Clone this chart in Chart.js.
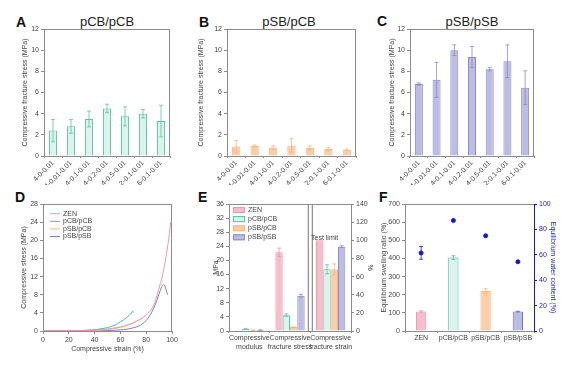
<!DOCTYPE html>
<html>
<head>
<meta charset="utf-8">
<script src="https://cdn.jsdelivr.net/npm/chart.js@4.4.0/dist/chart.umd.min.js"></script>
<style>
  body { margin: 0; background: #fff; }
  #fig { position: relative; width: 584px; height: 371px; overflow: hidden; font-family: 'Liberation Sans', Arial, sans-serif; }
  canvas { position: absolute; }
  .lab { position: absolute; font-weight: bold; font-size: 14px; line-height: 14px; color: #111; }
  .ttl { position: absolute; font-size: 13px; line-height: 13px; color: #222; transform: translateX(-50%); white-space: nowrap; }
</style>
</head>
<body>
<div id="fig">
  <div class="lab" style="left:16px;top:15px">A</div>
  <div class="lab" style="left:199px;top:15px">B</div>
  <div class="lab" style="left:377px;top:14px">C</div>
  <div class="lab" style="left:15px;top:190px">D</div>
  <div class="lab" style="left:198px;top:190px">E</div>
  <div class="lab" style="left:379px;top:190px">F</div>
  <div class="ttl" style="left:107px;top:15px">pCB/pCB</div>
  <div class="ttl" style="left:289px;top:15px">pSB/pCB</div>
  <div class="ttl" style="left:472px;top:15px">pSB/pSB</div>
  <canvas id="cA" width="190" height="185" style="left:0;top:0"></canvas>
  <canvas id="cB" width="190" height="185" style="left:190px;top:0"></canvas>
  <canvas id="cC" width="204" height="185" style="left:380px;top:0"></canvas>
  <canvas id="cD" width="190" height="186" style="left:0;top:185px"></canvas>
  <canvas id="cE" width="190" height="186" style="left:190px;top:185px"></canvas>
  <canvas id="cF" width="204" height="186" style="left:380px;top:185px"></canvas>
</div>
<script>
// ---- data ----
const groups = ['4-0-0.01', '4-0.01-0.01', '4-0.1-0.01', '4-0.2-0.01', '4-0.5-0.01', '2-0.1-0.01', '6-0.1-0.01'];
const stressTicks = [0, 2, 4, 6, 8, 10, 12];
const stressA = [2.4, 2.8, 3.5, 4.5, 3.75, 4.0, 3.3];
const errA = [1.05, 0.65, 0.75, 0.4, 0.9, 0.4, 1.5];
const stressB = [0.9, 0.95, 0.8, 1.0, 0.75, 0.65, 0.6];
const errB = [0.55, 0.1, 0.15, 0.65, 0.2, 0.15, 0.05];
const stressC = [6.8, 7.2, 10.0, 9.35, 8.2, 8.95, 6.45];
const errC = [0.1, 1.65, 0.5, 1.0, 0.15, 1.55, 1.6];

// D: stress-strain curves
const strainTicks = [0, 20, 40, 60, 80, 100];
const curveTicks = [0, 4, 8, 12, 16, 20, 24, 28];
const zenStrain = [0, 10, 20, 30, 40, 50, 60, 65, 70, 75, 80, 85, 88, 90, 92, 94, 96, 98, 99];
const zenStress = [0, 0.02, 0.05, 0.1, 0.2, 0.45, 0.9, 1.3, 1.8, 2.5, 3.5, 5.2, 7.5, 9.5, 11.5, 14.2, 17.5, 21.5, 24];
const pcbStrain = [0, 10, 20, 30, 40, 45, 50, 55, 60, 65, 68, 69.5, 70.5];
const pcbStress = [0, 0.02, 0.05, 0.12, 0.3, 0.5, 0.75, 1.2, 2.0, 3.0, 3.8, 4.4, 4.0];
const spcStrain = [0, 20, 40, 50, 55, 60, 65, 70, 74, 77];
const spcStress = [0, 0.03, 0.12, 0.3, 0.5, 0.8, 1.2, 1.8, 2.4, 2.9];
const sbsStrain = [0, 20, 40, 50, 60, 65, 70, 75, 80, 84, 87, 90, 92, 93.5, 95, 96.5];
const sbsStress = [0, 0.02, 0.05, 0.1, 0.25, 0.4, 0.7, 1.2, 2.3, 4, 5.8, 8.2, 9.8, 10.3, 9.5, 8];

// E: mechanical summary
const eGroups = [['Compressive', 'modulus'], ['Compressive', 'fracture stress'], ['Compressive', 'fracture strain']];
const mpaTicks = [0, 4, 8, 12, 16, 20, 24, 28, 32, 36];
const pctTicks = [0, 20, 40, 60, 80, 100, 120, 140];
const zenMpa = [0.15, 22.3, null];
const zenMpaErr = [0, 1.2, 0];
const pcbMpa = [0.55, 4.5, null];
const pcbMpaErr = [0.1, 0.35, 0];
const spcMpa = [0.25, 1.1, null];
const spcMpaErr = [0.05, 0.1, 0];
const sbsMpa = [0.25, 10.0, null];
const sbsMpaErr = [0.05, 0.4, 0];
const zenPct = [null, null, 100];
const zenPctErr = [0, 0, 0];
const pcbPct = [null, null, 68];
const pcbPctErr = [0, 0, 5];
const spcPct = [null, null, 68];
const spcPctErr = [0, 0, 6];
const sbsPct = [null, null, 93];
const sbsPctErr = [0, 0, 1];

// F: swelling / water content
const fGroups = ['ZEN', 'pCB/pCB', 'pSB/pCB', 'pSB/pSB'];
const swellTicks = [0, 100, 200, 300, 400, 500, 600, 700];
const waterTicks = [0, 20, 40, 60, 80, 100];
const swelling = [108, 405, 220, 107];
const swellErr = [4, 10, 13, 2];
const water = [61.5, 87, 75, 54.5];
const waterErr = [5, 0, 0, 0];

// ---- colours ----
const gray = '#8c8c8c';
const blue = 'rgb(20,20,225)';
const pink = { fill: 'rgb(246,190,202)', line: 'rgb(238,150,172)' };
const green = { fill: 'rgb(218,244,236)', line: 'rgb(88,196,166)' };
const orange = { fill: 'rgb(252,206,168)', line: 'rgb(248,182,128)' };
const purple = { fill: 'rgb(188,188,228)', line: 'rgb(138,138,200)' };

Chart.defaults.font.family = "'Liberation Sans', Arial, sans-serif";
Chart.defaults.font.size = 7;
Chart.defaults.color = '#444';
Chart.defaults.animation = false;
Chart.defaults.responsive = false;
Chart.defaults.plugins.legend.display = false;
Chart.defaults.plugins.tooltip.enabled = false;

// ---- plugins ----
const frame = {
  id: 'frame',
  beforeDatasetsDraw(chart, args, opts) {
    const { ctx, chartArea: a } = chart;
    ctx.save();
    ctx.strokeStyle = gray;
    ctx.lineWidth = 1;
    ctx.beginPath();
    ctx.moveTo(a.left, a.top + 0.5);
    ctx.lineTo(a.right, a.top + 0.5);
    if (opts.right !== false) {
      ctx.moveTo(a.right - 0.5, a.top);
      ctx.lineTo(a.right - 0.5, a.bottom);
    }
    ctx.stroke();
    ctx.restore();
  },
};

const errorBars = {
  id: 'errorBars',
  afterDatasetsDraw(chart) {
    const ctx = chart.ctx;
    chart.data.datasets.forEach((ds, i) => {
      if (!ds.errors) return;
      const meta = chart.getDatasetMeta(i);
      const ys = chart.scales[meta.yAxisID];
      meta.data.forEach((el, j) => {
        const v = ds.data[j];
        const e = ds.errors[j];
        if (v == null || !e) return;
        const top = ys.getPixelForValue(v + e);
        const bot = ys.getPixelForValue(Math.max(v - e, 0));
        const col = ds.errorColor || ds.borderColor;
        ctx.save();
        ctx.strokeStyle = Array.isArray(col) ? col[j] : col;
        ctx.lineWidth = 0.8;
        ctx.beginPath();
        ctx.moveTo(el.x, top);
        ctx.lineTo(el.x, bot);
        ctx.moveTo(el.x - 2, top);
        ctx.lineTo(el.x + 2, top);
        ctx.moveTo(el.x - 2, bot);
        ctx.lineTo(el.x + 2, bot);
        ctx.stroke();
        ctx.restore();
      });
    });
  },
};

// legend drawn inside the plot area
const innerLegend = {
  id: 'innerLegend',
  afterDraw(chart, args, o) {
    if (o.x == null) return;
    const { ctx, chartArea: a } = chart;
    ctx.save();
    ctx.font = "7px 'Liberation Sans', Arial, sans-serif";
    ctx.textBaseline = 'middle';
    chart.data.datasets.filter((d) => !d.noLegend).forEach((ds, k) => {
      const x = a.left + o.x;
      const y = a.top + o.y + k * o.step;
      if (o.kind === 'line') {
        ctx.strokeStyle = ds.borderColor;
        ctx.lineWidth = 1;
        ctx.beginPath();
        ctx.moveTo(x, y);
        ctx.lineTo(x + o.len, y);
        ctx.stroke();
      } else {
        ctx.fillStyle = ds.backgroundColor;
        ctx.fillRect(x, y - 3, o.len, 6);
        ctx.strokeStyle = ds.borderColor;
        ctx.lineWidth = 1;
        ctx.strokeRect(x + 0.5, y - 2.5, o.len - 1, 5);
      }
      ctx.fillStyle = '#444';
      ctx.fillText(ds.label, x + o.len + 3, y);
    });
    ctx.restore();
  },
};

// axis break + "Test limit" note for panel E
const axisBreak = {
  id: 'axisBreak',
  afterDatasetsDraw(chart, args, o) {
    if (!o.enabled) return;
    const { ctx, chartArea: a, scales } = chart;
    const bx = (scales.x.getPixelForValue(1) + scales.x.getPixelForValue(2)) / 2;
    ctx.save();
    ctx.fillStyle = '#fff';
    ctx.fillRect(bx - 1.5, a.top + 1, 3, a.height - 1);
    ctx.strokeStyle = gray;
    ctx.lineWidth = 1.2;
    ctx.beginPath();
    ctx.moveTo(bx - 2, a.top);
    ctx.lineTo(bx - 2, a.bottom);
    ctx.moveTo(bx + 2, a.top);
    ctx.lineTo(bx + 2, a.bottom);
    ctx.stroke();
    const el = chart.getDatasetMeta(o.noteDataset).data[o.noteIndex];
    ctx.fillStyle = '#444';
    ctx.font = "7px 'Liberation Sans', Arial, sans-serif";
    ctx.textBaseline = 'bottom';
    ctx.fillText(o.note, el.x - el.width / 2 - 5, el.y + 1);
    ctx.restore();
  },
};

const plugins = [frame, errorBars, innerLegend, axisBreak];

// ---- axis helpers ----
function valueAxis(width, ticks, title, pad, more) {
  return Object.assign({
    min: ticks[0],
    max: ticks[ticks.length - 1],
    afterBuildTicks: (s) => { s.ticks = ticks.map((v) => ({ value: v })); },
    afterFit: (s) => { s.width = width; },
    border: { color: gray },
    grid: { drawOnChartArea: false, tickLength: 3, color: gray },
    ticks: { padding: 2 },
    title: { display: true, text: title, padding: { top: pad, bottom: 0 }, font: { size: 7 } },
  }, more || {});
}

function groupAxis(height, rotate) {
  return {
    stacked: false,
    afterFit: (s) => { s.height = height; },
    border: { color: gray },
    grid: { drawOnChartArea: false, tickLength: 2, color: gray },
    ticks: { autoSkip: false, maxRotation: rotate, minRotation: rotate, padding: 1 },
  };
}

function groupChart(id, values, errors, col, yWidth, titlePad, padRight) {
  return new Chart(document.getElementById(id), {
    type: 'bar',
    data: {
      labels: groups,
      datasets: [{
        data: values,
        errors,
        backgroundColor: col.fill,
        borderColor: col.line,
        errorColor: col.line,
        borderWidth: 1,
        barPercentage: 0.45,
        categoryPercentage: 1,
      }],
    },
    options: {
      layout: { padding: { left: 0, top: 29, right: padRight, bottom: 0 } },
      scales: {
        x: groupAxis(29, 45),
        y: valueAxis(yWidth, stressTicks, 'Compressive fracture stress (MPa)', titlePad),
      },
    },
    plugins,
  });
}

// ---- A, B, C ----
groupChart('cA', stressA, errA, green, 44, 21, 20);
groupChart('cB', stressB, errB, orange, 37, 7, 24);
groupChart('cC', stressC, errC, purple, 30, 8, 50);

// ---- D ----
const pairs = (xs, ys) => xs.map((x, i) => ({ x, y: ys[i] }));
function curve(label, xs, ys, color) {
  return { label, data: pairs(xs, ys), borderColor: color, borderWidth: 1, pointRadius: 0, showLine: true, tension: 0.3 };
}
new Chart(document.getElementById('cD'), {
  type: 'scatter',
  data: {
    datasets: [
      curve('ZEN', zenStrain, zenStress, pink.line),
      curve('pCB/pCB', pcbStrain, pcbStress, 'rgb(70,190,155)'),
      curve('pSB/pCB', spcStrain, spcStress, 'rgb(250,180,120)'),
      curve('pSB/pSB', sbsStrain, sbsStress, 'rgb(125,125,205)'),
    ],
  },
  options: {
    layout: { padding: { left: 0, top: 19, right: 18, bottom: 0 } },
    scales: {
      x: valueAxis(0, strainTicks, 'Compressive strain (%)', 0, {
        afterFit: (s) => { s.height = 40; },
        title: { display: true, text: 'Compressive strain (%)', padding: { top: 0, bottom: 18 }, font: { size: 7 } },
      }),
      y: valueAxis(43, curveTicks, 'Compressive stress (MPa)', 20),
    },
    plugins: { innerLegend: { kind: 'line', x: 7, y: 9.7, step: 7.6, len: 10 } },
  },
  plugins,
});

// ---- E ----
function eBar(label, values, errors, col, axis, hidden) {
  return {
    label, data: values, errors, yAxisID: axis, noLegend: hidden,
    backgroundColor: col.fill, borderColor: col.line, errorColor: col.line,
    borderWidth: 1, skipNull: true, barPercentage: 1, categoryPercentage: 0.72,
  };
}
new Chart(document.getElementById('cE'), {
  type: 'bar',
  data: {
    labels: eGroups,
    datasets: [
      eBar('ZEN', zenMpa, zenMpaErr, pink, 'y', false),
      eBar('pCB/pCB', pcbMpa, pcbMpaErr, green, 'y', false),
      eBar('pSB/pCB', spcMpa, spcMpaErr, orange, 'y', false),
      eBar('pSB/pSB', sbsMpa, sbsMpaErr, purple, 'y', false),
      eBar('ZEN', zenPct, zenPctErr, pink, 'y1', true),
      eBar('pCB/pCB', pcbPct, pcbPctErr, green, 'y1', true),
      eBar('pSB/pCB', spcPct, spcPctErr, orange, 'y1', true),
      eBar('pSB/pSB', sbsPct, sbsPctErr, purple, 'y1', true),
    ],
  },
  options: {
    layout: { padding: { left: 0, top: 19, right: 5, bottom: 0 } },
    scales: {
      x: groupAxis(40, 0),
      y: valueAxis(39, mpaTicks, 'MPa', 22),
      y1: valueAxis(24, pctTicks, '%', 1, { position: 'right' }),
    },
    plugins: {
      frame: { right: false },
      innerLegend: { kind: 'box', x: 4, y: 6, step: 9.1, len: 12 },
      axisBreak: { enabled: true, note: 'Test limit', noteDataset: 4, noteIndex: 2 },
    },
  },
  plugins,
});

// ---- F ----
new Chart(document.getElementById('cF'), {
  type: 'bar',
  data: {
    labels: fGroups,
    datasets: [
      {
        label: 'Equilibrium swelling ratio',
        data: swelling,
        errors: swellErr,
        yAxisID: 'y',
        backgroundColor: [pink.fill, green.fill, orange.fill, purple.fill],
        borderColor: [pink.line, 'rgb(70,190,155)', orange.line, 'rgb(110,110,180)'],
        borderWidth: 1,
        barPercentage: 0.32,
        categoryPercentage: 1,
        order: 2,
      },
      {
        type: 'line',
        label: 'Equilibrium water content',
        data: water,
        errors: waterErr,
        yAxisID: 'y1',
        showLine: false,
        pointRadius: 2,
        pointBackgroundColor: blue,
        pointBorderColor: blue,
        borderColor: blue,
        order: 1,
      },
    ],
  },
  options: {
    layout: { padding: { left: 0, top: 19, right: 26, bottom: 0 } },
    scales: {
      x: groupAxis(40, 0),
      y: valueAxis(25, swellTicks, 'Equilibrium swelling ratio (%)', 0),
      y1: valueAxis(24, waterTicks, 'Equilibrium water content (%)', 1, {
        position: 'right',
        border: { color: blue },
        grid: { drawOnChartArea: false, tickLength: 3, color: blue },
        ticks: { padding: 2, color: blue },
        title: { display: true, text: 'Equilibrium water content (%)', color: blue, padding: { top: 1, bottom: 0 }, font: { size: 7 } },
      }),
    },
    plugins: { frame: { right: false }, innerLegend: {} },
  },
  plugins,
});
</script>
</body>
</html>
